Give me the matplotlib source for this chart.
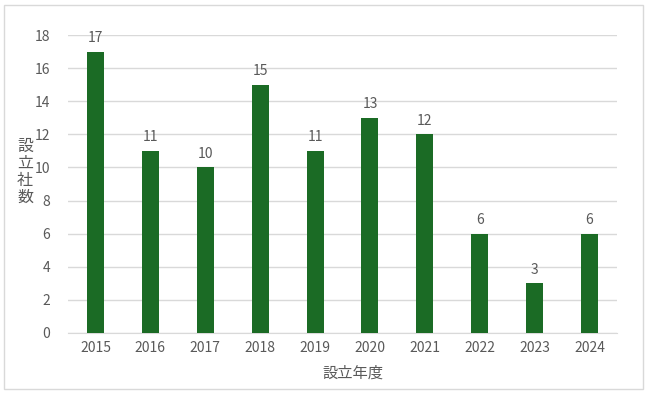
import matplotlib
matplotlib.use("Agg")
import matplotlib.pyplot as plt
from matplotlib.patches import Rectangle

plt.rcParams['font.family'] = ['Noto Sans CJK JP', 'DejaVu Sans']

years = ["2015", "2016", "2017", "2018", "2019", "2020", "2021", "2022", "2023", "2024"]
counts = [17, 11, 10, 15, 11, 13, 12, 6, 3, 6]
yticks = [0, 2, 4, 6, 8, 10, 12, 14, 16, 18]

text_color = "#595959"
bar_color = "#1B6B25"
grid_color = "#D9D9D9"

fig = plt.figure(figsize=(6.45, 3.93), dpi=100)
fig.patches.append(Rectangle((4/645, 1-389/393), 639/645, 384/393, transform=fig.transFigure,
                             fill=False, edgecolor=grid_color, linewidth=1))
ax = fig.add_axes([68/645, 1-333/393, 549/645, 298/393])

x = list(range(len(years)))
bars = ax.bar(x, counts, width=0.31, color=bar_color, zorder=3)
for xi, v in zip(x, counts):
    ax.text(xi, v + 0.4, str(v), ha='center', va='bottom', fontsize=10, color=text_color)

ax.set_xlim(-0.5, len(years) - 0.5)
ax.set_ylim(0, 18)
ax.set_yticks(yticks)
ax.set_yticklabels([str(t) for t in yticks])
ax.set_xticks(x)
ax.set_xticklabels(years)
ax.tick_params(axis='both', length=0, labelsize=10, colors=text_color)
ax.tick_params(axis='x', pad=6)
ax.tick_params(axis='y', pad=13)
ax.grid(axis='y', color=grid_color, linewidth=1, zorder=0)
for s in ['top', 'right', 'left']:
    ax.spines[s].set_visible(False)
ax.spines['bottom'].set_color(grid_color)

fig.text(25/645, 1-172/393, "設\n立\n社\n数", ha='center', va='center', fontsize=11.5,
         color=text_color, linespacing=1.0)
fig.text(353/645, 1-373/393, "設立年度", ha='center', va='center', fontsize=11, color=text_color)

fig.savefig("out.png", dpi=100)
